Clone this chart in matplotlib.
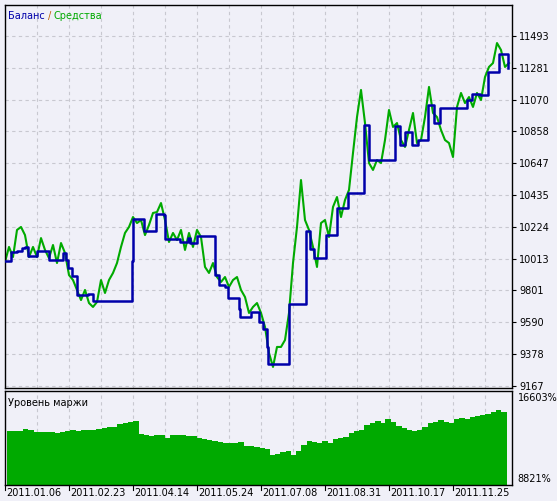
import matplotlib
matplotlib.use("Agg")
import matplotlib.pyplot as plt
from matplotlib.transforms import blended_transform_factory

BG = "#F0F0F8"
GREEN = "#00AA00"
NAVY = "#0000AA"
GRID = "#C8C8D0"

# balance: (time position, value) change points
BAL_X = [5, 11, 17, 22, 25, 28, 37, 49, 60, 63, 66, 68, 72, 77, 88, 93, 130, 132, 133,
         141, 144, 153, 156, 164, 165, 176, 180, 188, 190, 197, 212, 215, 219, 225, 228,
         234, 239, 240, 250, 251, 257, 259, 263, 267, 268, 289, 305, 306, 310, 314, 325,
         326, 336, 337, 347, 348, 363, 364, 368, 369, 393, 395, 398, 400, 404, 405, 410,
         412, 415, 418, 427, 428, 433, 434, 439, 440, 465, 467, 471, 472, 480, 487, 488,
         498, 499, 507, 508]
BAL_V = [9997, 10057, 10063, 10083, 10090, 10030, 10063, 10004, 10004, 10050, 10004, 9950,
         9897, 9771, 9777, 9731, 9731, 9997, 10276, 10276, 10196, 10196, 10310, 10303,
         10143, 10143, 10123, 10150, 10117, 10163, 10163, 9904, 9837, 9824, 9751, 9751,
         9678, 9624, 9624, 9657, 9657, 9590, 9545, 9425, 9312, 9711, 9711, 10196, 10076,
         10016, 10016, 10169, 10169, 10349, 10349, 10449, 10449, 10901, 10901, 10668,
         10668, 10894, 10894, 10768, 10768, 10855, 10855, 10768, 10768, 10801, 10801,
         11034, 11034, 10914, 10914, 11014, 11014, 11067, 11067, 11107, 11100, 11100,
         11254, 11254, 11373, 11373, 11280]

# equity sampled every 4 time units from 5
EQUITY = [9990, 10090, 10023, 10203, 10223, 10169, 10023, 10090, 10023, 10149, 10070,
          10016, 10103, 9983, 10116, 10050, 9903, 9870, 9804, 9737, 9804, 9717, 9691,
          9724, 9870, 9784, 9870, 9917, 9983, 10090, 10183, 10223, 10289, 10249, 10269,
          10169, 10236, 10316, 10322, 10382, 10269, 10123, 10183, 10136, 10203, 10070,
          10183, 10090, 10203, 10156, 9957, 9917, 9983, 9890, 9857, 9890, 9824, 9870,
          9890, 9804, 9757, 9651, 9691, 9717, 9651, 9558, 9385, 9292, 9425, 9425, 9471,
          9651, 9983, 10223, 10535, 10269, 10203, 10090, 9957, 10249, 10269, 10156,
          10356, 10422, 10289, 10402, 10469, 10715, 10954, 11134, 10914, 10648, 10602,
          10668, 10648, 10801, 11001, 10888, 10914, 10801, 10755, 10868, 10981, 10781,
          10801, 10954, 11154, 10981, 10954, 10868, 10801, 10781, 10688, 11021, 11114,
          11047, 11087, 11021, 11114, 11067, 11220, 11287, 11313, 11446, 11400, 11287,
          11313]

MARGIN = [13299, 13299, 13299, 13515, 13453, 13237, 13237, 13206, 13206, 13144, 13206,
          13299, 13391, 13360, 13391, 13453, 13453, 13515, 13607, 13700, 13762, 14009,
          14132, 14225, 14318, 13052, 12990, 12897, 12928, 12928, 12681, 12990, 12928,
          12928, 12897, 12897, 12681, 12527, 12450, 12372, 12300, 12218, 12156, 12156,
          12279, 11909, 11850, 11755, 11700, 11600, 11044, 11137, 11353, 11446, 11044,
          11446, 11971, 12372, 12300, 12218, 12372, 12156, 12527, 12681, 12800, 13144,
          13299, 13453, 13916, 14071, 14318, 14132, 14441, 14225, 13824, 13607, 13453,
          13299, 13453, 13762, 14071, 14225, 14380, 14225, 14071, 14534, 14626, 14534,
          14688, 14750, 14843, 14997, 15152, 15306, 15152]

Y_TICKS = [11493, 11281, 11070, 10858, 10647, 10435, 10224, 10013, 9801, 9590, 9378, 9167]
DATE_LABELS = ["2011.01.06", "2011.02.23", "2011.04.14", "2011.05.24",
               "2011.07.08", "2011.08.31", "2011.10.17", "2011.11.25"]
DATE_X = [5, 69, 133, 197, 261, 325, 389, 453]
GRID_X = list(range(37, 512, 32))

W, H = 557, 501
fig = plt.figure(figsize=(W / 100, H / 100), dpi=100, facecolor=BG)
ax1 = fig.add_axes([5 / W, 1 - 388 / H, 507 / W, 383 / H], facecolor=BG)
ax2 = fig.add_axes([5 / W, 1 - 485 / H, 507 / W, 94 / H], facecolor=BG)

eq_x = [5 + 4 * i for i in range(len(EQUITY))]
ax1.plot(eq_x, EQUITY, color=GREEN, lw=1.5, zorder=2)
ax1.plot(BAL_X, BAL_V, color=NAVY, lw=1.8, drawstyle="steps-post", zorder=3)
ax1.set_xlim(5, 512)
ax1.set_ylim(9152, 11699)
for gx in GRID_X:
    ax1.axvline(gx, color=GRID, lw=0.8, ls=(0, (3, 3)), zorder=1)
    ax2.axvline(gx, color=GRID, lw=0.8, ls=(0, (3, 3)), zorder=0)
for gy in Y_TICKS:
    ax1.axhline(gy, color=GRID, lw=0.8, ls=(0, (3, 3)), zorder=1)
ax1.set_xticks([])
ax1.yaxis.tick_right()
ax1.set_yticks(Y_TICKS)
ax1.set_yticklabels([str(v) for v in Y_TICKS], fontsize=7)
ax1.tick_params(axis="y", length=3, pad=2)

t1 = ax1.text(0.006, 0.985, "Баланс", color=NAVY, fontsize=7, transform=ax1.transAxes, va="top")
t2 = ax1.annotate("/", xy=(1, 0), xycoords=t1, xytext=(2, 0), textcoords="offset points",
                  color="#C06000", fontsize=7, va="bottom")
ax1.annotate("Средства", xy=(1, 0), xycoords=t2, xytext=(2, 0), textcoords="offset points",
             color=GREEN, fontsize=7, va="bottom")

bar_w = 5.255
bar_x = [7.1 + i * bar_w for i in range(len(MARGIN))]
ax2.bar(bar_x, [m - 8148 for m in MARGIN], bottom=8148, width=bar_w + 0.3,
        align="edge", color=GREEN, lw=0, zorder=2)
ax2.set_xlim(5, 512)
ax2.set_ylim(8148, 17179)
ax2.set_xticks([])
ax2.yaxis.tick_right()
ax2.set_yticks([8821, 16603])
ax2.set_yticklabels(["8821%", "16603%"], fontsize=7)
ax2.tick_params(axis="y", length=0, pad=4)
ax2.text(0.006, 0.93, "Уровень маржи", color="black", fontsize=7, transform=ax2.transAxes, va="top")

tr = blended_transform_factory(ax2.transData, ax2.transAxes)
for x, lab in zip(DATE_X, DATE_LABELS):
    ax2.plot([x, x], [0, -0.05], color="black", lw=0.8, transform=tr, clip_on=False)
    ax2.text(x + 1, -0.03, lab, fontsize=7, ha="left", va="top", transform=tr)

for ax in (ax1, ax2):
    for s in ax.spines.values():
        s.set_color("black")
        s.set_linewidth(1)

fig.savefig("out.png", dpi=100, facecolor=BG)
